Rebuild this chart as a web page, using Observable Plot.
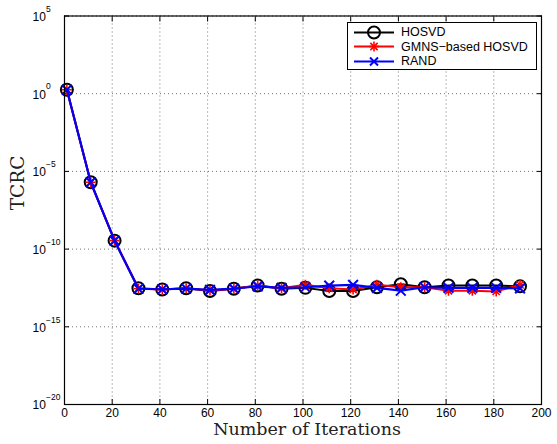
<!DOCTYPE html>
<html>
<head>
<meta charset="utf-8">
<script src="https://cdn.jsdelivr.net/npm/d3@7"></script>
<script src="https://cdn.jsdelivr.net/npm/@observablehq/plot@0.6"></script>
<style>
  html, body { margin: 0; padding: 0; background: #fff; }
  #chart { position: relative; width: 557px; height: 444px; }
  #legend {
    position: absolute; left: 347px; top: 22px; width: 188px; height: 46px;
    border: 1.3px solid #000; background: #fff;
    font-family: "Liberation Sans", Arial, sans-serif; font-size: 12.5px; color: #000;
  }
  #legend .row { position: absolute; left: 0; height: 15px; display: flex; align-items: center; }
  #legend svg { display: block; }
  #legend span { margin-left: 5px; white-space: nowrap; }
</style>
</head>
<body>
<div id="chart"></div>
<script>
// ---- data ----
const iterations = [1, 11, 21, 31, 41, 51, 61, 71, 81, 91, 101, 111, 121, 131, 141, 151, 161, 171, 181, 191];
const hosvd = [1.8, 2e-6, 3.5e-10, 3.0e-13, 2.5e-13, 3.0e-13, 2.0e-13, 2.8e-13, 4.5e-13, 2.8e-13,
               3.2e-13, 2.0e-13, 2.0e-13, 3.5e-13, 5.5e-13, 3.5e-13, 4.5e-13, 4.5e-13, 4.5e-13, 4.0e-13];
const gmns  = [1.8, 2e-6, 3.5e-10, 2.8e-13, 2.5e-13, 3.0e-13, 2.2e-13, 2.8e-13, 4.5e-13, 3.0e-13,
               5.0e-13, 3.0e-13, 2.5e-13, 5.0e-13, 3.5e-13, 3.5e-13, 2.1e-13, 2.1e-13, 1.9e-13, 5.0e-13];
const rand  = [1.8, 2e-6, 3.5e-10, 2.8e-13, 2.6e-13, 2.9e-13, 2.4e-13, 2.9e-13, 4.0e-13, 3.2e-13,
               3.5e-13, 4.5e-13, 5.0e-13, 3.2e-13, 2.1e-13, 3.5e-13, 3.2e-13, 3.2e-13, 3.2e-13, 3.0e-13];
const seriesNames = ["HOSVD", "GMNS\u2212based HOSVD", "RAND"];
const seriesColors = ["#000000", "#ff0000", "#0000ff"];
const xTicks = [0, 20, 40, 60, 80, 100, 120, 140, 160, 180, 200];
const yTicks = [1e-20, 1e-15, 1e-10, 1e-5, 1e0, 1e5];
const xLabel = "Number of Iterations";
const yLabel = "TCRC";

// ---- marker symbols (MATLAB-like) ----
const asterisk8 = {
  draw(ctx, size) {
    const r = Math.sqrt(size / Math.PI);
    const d = r * 0.72;
    ctx.moveTo(-r, 0); ctx.lineTo(r, 0);
    ctx.moveTo(0, -r); ctx.lineTo(0, r);
    ctx.moveTo(-d, -d); ctx.lineTo(d, d);
    ctx.moveTo(-d, d); ctx.lineTo(d, -d);
  }
};
const cross = {
  draw(ctx, size) {
    const r = Math.sqrt(size / Math.PI) * 0.75;
    ctx.moveTo(-r, -r); ctx.lineTo(r, r);
    ctx.moveTo(-r, r); ctx.lineTo(r, -r);
  }
};

const toRows = (vals) => iterations.map((x, i) => ({x, y: vals[i]}));
const rowsH = toRows(hosvd), rowsG = toRows(gmns), rowsR = toRows(rand);

const supMinus = (d) => { const e = Math.round(Math.log10(d)); return e < 0 ? "\u2212" + (-e) : String(e); };

const sansFont = "'Liberation Sans', Arial, sans-serif";
const serifFont = "'DejaVu Serif', 'Liberation Serif', serif";

const chart = Plot.plot({
  width: 557,
  height: 444,
  marginLeft: 64,
  marginRight: 16,
  marginTop: 15.5,
  marginBottom: 40,
  style: { background: "#fff", fontFamily: sansFont, fontSize: "12px", color: "#000" },
  x: { domain: [0, 200] },
  y: { type: "log", domain: [1e-20, 1e5] },
  marks: [
    Plot.gridX(xTicks, { stroke: "#000", strokeOpacity: 0.55, strokeDasharray: "1,3", strokeWidth: 1 }),
    Plot.gridY(yTicks, { stroke: "#000", strokeOpacity: 0.55, strokeDasharray: "1,3", strokeWidth: 1 }),
    Plot.axisX({ anchor: "bottom", ticks: xTicks, tickSize: -5, tickFormat: () => "", label: null, strokeWidth: 1 }),
    Plot.axisX({ anchor: "top", ticks: xTicks, tickSize: -5, tickFormat: () => "", label: null, strokeWidth: 1 }),
    Plot.axisY({ anchor: "left", ticks: yTicks, tickSize: -5, tickFormat: () => "", label: null, strokeWidth: 1 }),
    Plot.axisY({ anchor: "right", ticks: yTicks, tickSize: -5, tickFormat: () => "", label: null, strokeWidth: 1 }),
    // tick labels
    Plot.text(xTicks, { x: d => d, text: d => String(d), frameAnchor: "bottom", dy: 12, fontSize: 12, fill: "#000" }),
    Plot.text(yTicks, { y: d => d, text: () => "10", frameAnchor: "left", dx: -32, dy: 1, textAnchor: "start", fontSize: 12, fill: "#000" }),
    Plot.text(yTicks, { y: d => d, text: supMinus, frameAnchor: "left", dx: -18.5, dy: -7, textAnchor: "start", fontSize: 8.5, fill: "#000" }),
    // axis titles
    Plot.text([xLabel], { frameAnchor: "bottom", dx: 4, dy: 30, fontFamily: serifFont, fontSize: 17.5, fill: "#222" }),
    Plot.text([yLabel], { frameAnchor: "left", dx: -46, rotate: -90, fontFamily: serifFont, fontSize: 18.5, fill: "#222" }),
    // HOSVD
    Plot.line(rowsH, { x: "x", y: "y", stroke: seriesColors[0], strokeWidth: 2 }),
    Plot.dot(rowsH, { x: "x", y: "y", symbol: "circle", r: 6, stroke: seriesColors[0], fill: "none", strokeWidth: 2 }),
    // GMNS
    Plot.line(rowsG, { x: "x", y: "y", stroke: seriesColors[1], strokeWidth: 2 }),
    Plot.dot(rowsG, { x: "x", y: "y", symbol: asterisk8, r: 5, stroke: seriesColors[1], fill: "none", strokeWidth: 1.6 }),
    // RAND
    Plot.line(rowsR, { x: "x", y: "y", stroke: seriesColors[2], strokeWidth: 2.2 }),
    Plot.dot(rowsR, { x: "x", y: "y", symbol: cross, r: 6.5, stroke: seriesColors[2], fill: "none", strokeWidth: 2 }),
    Plot.frame({ stroke: "#000", strokeWidth: 1.2 })
  ]
});

const container = document.getElementById("chart");
container.appendChild(chart);

// ---- legend (overlay inside the axes, like MATLAB) ----
const legend = document.createElement("div");
legend.id = "legend";
const symbolsSvg = [
  `<circle cx="21" cy="7.5" r="6" fill="none" stroke="#000" stroke-width="2"/>`,
  `<g stroke="#ff0000" stroke-width="1.6"><line x1="16" y1="7.5" x2="26" y2="7.5"/><line x1="21" y1="2.5" x2="21" y2="12.5"/><line x1="17.4" y1="3.9" x2="24.6" y2="11.1"/><line x1="17.4" y1="11.1" x2="24.6" y2="3.9"/></g>`,
  `<g stroke="#0000ff" stroke-width="2"><line x1="17" y1="3.5" x2="25" y2="11.5"/><line x1="17" y1="11.5" x2="25" y2="3.5"/></g>`
];
seriesNames.forEach((name, i) => {
  const row = document.createElement("div");
  row.className = "row";
  row.style.top = (1.5 + i * 14.5) + "px";
  row.innerHTML = `<svg width="48" height="15"><line x1="6" y1="7.5" x2="46" y2="7.5" stroke="${seriesColors[i]}" stroke-width="2"/>${symbolsSvg[i]}</svg><span>${name}</span>`;
  legend.appendChild(row);
});
legend.querySelectorAll("svg").forEach(s => s.querySelectorAll("circle, g").forEach(el => el.setAttribute("transform", "translate(5,0)")));
container.appendChild(legend);
</script>
</body>
</html>
